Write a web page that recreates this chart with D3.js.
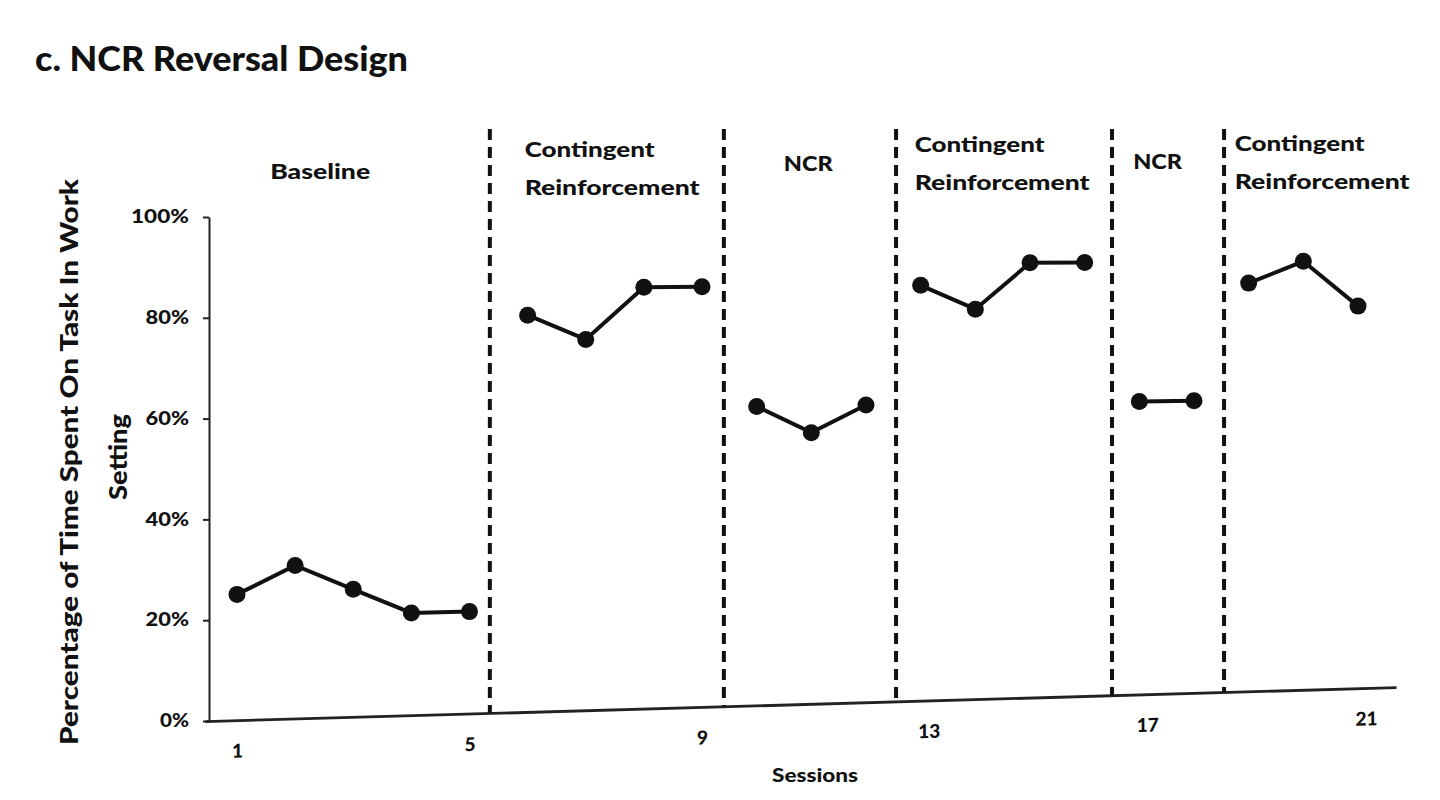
<!DOCTYPE html>
<html><head><meta charset="utf-8">
<script src="https://cdn.jsdelivr.net/npm/d3@7"></script>
<style>
html,body{margin:0;padding:0;background:#fff;}
svg{display:block;}
text{font-family:Lato,'Open Sans',sans-serif;font-weight:900;fill:#111;}
</style>
</head><body>
<svg id="chart" width="1440" height="800"></svg>
<script>
// ---- data ----
const sessions = [1,2,3,4,5,6,7,8,9,10,11,12,13,14,15,16,17,18,19,20,21];
const onTask   = [25,30.5,25.5,20.5,20.5, 80,75,85.5,85.5, 61,55.5,61, 85.5,80.5,90,90, 61,61, 85.5,90,80.5];
const phaseNames = ["Baseline","Contingent Reinforcement","NCR","Contingent Reinforcement","NCR","Contingent Reinforcement"];
const phaseSessions = [[1,2,3,4,5],[6,7,8,9],[10,11,12],[13,14,15,16],[17,18],[19,20,21]];
const phaseChanges = [5.35, 9.4, 12.55, 16.5, 18.55];
const yTicks = [0,20,40,60,80,100];
const xTickLabels = [1,5,9,13,17,21];
const titleText = "c. NCR Reversal Design";
const yTitle = ["Percentage of Time Spent On Task In Work","Setting"];
const xTitle = "Sessions";

// ---- layout ----
const svg = d3.select("#chart");
const x = d3.scaleLinear().domain([0.45, 1, 9, 21, 21.7]).range([205, 237, 702, 1358, 1396]);
const y = d3.scaleLinear().domain([0, 100]).range([721, 217]);
const X0 = 209, kBot = 0.0285, kTop = 0.003;
function warpY(px, py){
  const t = (y(0) - py) / (y(0) - y(100));
  const k = kBot + (kTop - kBot) * t;
  return py - k * (px - X0);
}
function fit(sel, w){ sel.attr("textLength", w).attr("lengthAdjust","spacingAndGlyphs"); return sel; }

// title
fit(svg.append("text").attr("x",35).attr("y",71).attr("font-size",34).text(titleText), 373);

// y axis
const yAxis = svg.append("g").attr("transform",`translate(${X0},0)`)
  .call(d3.axisLeft(y).tickValues(yTicks).tickFormat(d=>d+"%").tickSize(6).tickSizeOuter(0).tickPadding(14));
yAxis.select(".domain").attr("stroke","#222").attr("stroke-width",2);
yAxis.selectAll(".tick line").attr("stroke","#222").attr("stroke-width",2);
yAxis.selectAll(".tick text").attr("font-size",18).attr("font-family","Lato,sans-serif").attr("font-weight",900).attr("fill","#111")
  .each(function(d){ fit(d3.select(this), (String(d).length+1)*14.5); });

// y title
const yt = svg.append("g");
fit(yt.append("text").attr("transform","translate(68,462) rotate(-90)").attr("text-anchor","middle")
  .attr("dominant-baseline","central").attr("font-size",24).text(yTitle[0]), 566);
fit(yt.append("text").attr("transform","translate(117,457) rotate(-90)").attr("text-anchor","middle")
  .attr("dominant-baseline","central").attr("font-size",24).text(yTitle[1]), 86);

// x axis (tilted like the scan)
const xAxis = svg.append("g")
  .attr("transform",`translate(0,${y(0)}) matrix(1,${-kBot},0,1,0,${kBot*X0})`)
  .call(d3.axisBottom(x).tickValues(xTickLabels).tickSize(0).tickSizeOuter(0).tickPadding(24));
xAxis.select(".domain").attr("stroke","#222").attr("stroke-width",2.8);
xAxis.selectAll(".tick text").attr("font-size",19).attr("font-family","Lato,sans-serif").attr("font-weight",900).attr("fill","#111")
  .attr("dx", d => d >= 13 ? 8 : 0);

// x title
fit(svg.append("text").attr("x",815).attr("y",775).attr("text-anchor","middle").attr("dominant-baseline","central")
  .attr("font-size",18).text(xTitle), 86);

// phase change lines
svg.append("g").selectAll("line").data(phaseChanges).join("line")
  .attr("x1", d=>x(d)).attr("x2", d=>x(d))
  .attr("y1", 129).attr("y2", d=>warpY(x(d), y(0)))
  .attr("stroke","#111").attr("stroke-width",4).attr("stroke-dasharray","11 7");

// phase labels
const labelPos = [
  {anchor:"middle", x:()=>x(2.5)-4, y:170},
  {anchor:"start",  x:()=>x(6)-3,   y:167},
  {anchor:"middle", x:()=>x(11)-3,  y:162},
  {anchor:"start",  x:()=>x(13)-6,  y:162},
  {anchor:"middle", x:()=>x(17.5)-9,y:160},
  {anchor:"start",  x:()=>x(19)-14, y:161}
];
const lab = svg.append("g");
phaseNames.forEach((name,i)=>{
  const p = labelPos[i];
  const words = name.split(" ");
  const t = lab.append("text").attr("text-anchor",p.anchor).attr("font-size",21).attr("dominant-baseline","central");
  if (words.length === 1){
    t.attr("x",p.x()).attr("y",p.y).text(name);
    fit(t, name==="Baseline"?100:49);
  } else {
    fit(t.append("tspan").attr("x",p.x()).attr("y",p.y-19).text(words[0]), 130);
    fit(t.append("tspan").attr("x",p.x()).attr("y",p.y+19).text(words[1]), 175);
  }
});

// data series
const pts = sessions.map((s,i)=>({s, v:onTask[i]}));
const line = d3.line().x(d=>x(d.s)).y(d=>warpY(x(d.s), y(d.v)));
const g = svg.append("g");
phaseSessions.forEach(ph=>{
  const seg = pts.filter(p=>ph.includes(p.s));
  g.append("path").datum(seg).attr("d",line).attr("fill","none").attr("stroke","#111").attr("stroke-width",4);
});
g.selectAll("circle").data(pts).join("circle")
  .attr("cx",d=>x(d.s)).attr("cy",d=>warpY(x(d.s), y(d.v))).attr("r",8.5).attr("fill","#111");
</script>
</body></html>
